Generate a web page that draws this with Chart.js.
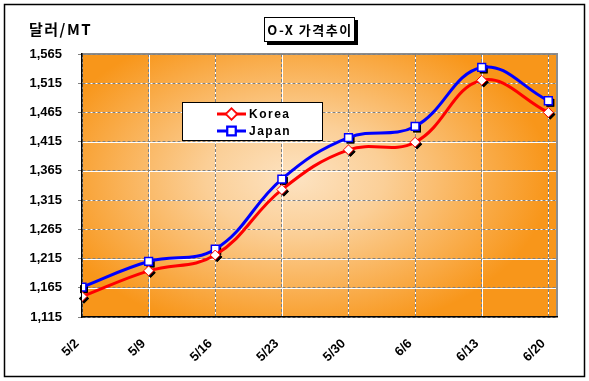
<!DOCTYPE html>
<html>
<head>
<meta charset="utf-8">
<script src="https://cdn.jsdelivr.net/npm/chart.js@4"></script>
<style>
  html, body { margin:0; padding:0; background:#ffffff; }
  #wrap { width:589px; height:381px; position:relative; }
</style>
</head>
<body>
<div id="wrap"><canvas id="c" width="589" height="381"></canvas></div>
<script>
const categories = ['5/2','5/9','5/16','5/23','5/30','6/6','6/13','6/20'];
const koreaValues = [1150, 1194, 1221, 1333, 1401, 1414, 1520, 1465];
const japanValues = [1166, 1210, 1231, 1351, 1422, 1441, 1542, 1485];
const yTickMin = 1115, yTickMax = 1565, yTickStep = 50;
const chartTitle = 'O-X 가격추이';
const yAxisTitle = '달러/MT';

const FONT = "'Liberation Sans', Arial, sans-serif";
const KFONT = "'Noto Sans CJK KR', 'Liberation Sans', sans-serif";

const decor = {
  id: 'decor',
  beforeInit(chart) {
    chart.ctx.letterSpacing = '0.8px';
  },
  beforeDraw(chart) {
    const ctx = chart.ctx, a = chart.chartArea;
    ctx.save();
    const cx = 295, cy = 178, rx = 255, ry = 160;
    ctx.save();
    ctx.beginPath();
    ctx.rect(a.left, a.top, a.right - a.left, a.bottom - a.top);
    ctx.clip();
    ctx.translate(cx, cy);
    ctx.scale(1, ry / rx);
    const g = ctx.createRadialGradient(0, 0, 0, 0, 0, rx);
    g.addColorStop(0, '#fde3c2');
    g.addColorStop(0.35, '#fbcf97');
    g.addColorStop(1, '#f8961a');
    ctx.fillStyle = g;
    ctx.fillRect(-rx * 3, -rx * 3, rx * 6, rx * 6);
    ctx.restore();
    ctx.strokeStyle = '#ffffff';
    ctx.lineWidth = 1;
    const xs = chart.scales.x, ys = chart.scales.y;
    ctx.beginPath();
    xs.ticks.forEach(t => {
      const px = Math.round(xs.getPixelForValue(t.value)) + 0.5;
      ctx.moveTo(px, a.top); ctx.lineTo(px, a.bottom);
    });
    ys.ticks.forEach(t => {
      const py = Math.round(ys.getPixelForValue(t.value)) + 0.5;
      ctx.moveTo(a.left, py); ctx.lineTo(a.right, py);
    });
    ctx.stroke();
    ctx.strokeStyle = '#8c8c8c';
    ctx.lineWidth = 2;
    ctx.beginPath();
    ctx.moveTo(a.left, a.top); ctx.lineTo(a.right, a.top); ctx.lineTo(a.right, a.bottom);
    ctx.stroke();
    ctx.restore();
  },
  beforeDatasetsDraw(chart) {
    const ctx = chart.ctx;
    ctx.save();
    chart.data.datasets.forEach((ds, i) => {
      const meta = chart.getDatasetMeta(i);
      meta.data.forEach(pt => {
        Chart.helpers.drawPoint(ctx, {
          pointStyle: ds.pointStyle, radius: ds.pointRadius, rotation: 0, borderWidth: 0
        }, pt.x + 2, pt.y + 2);
        ctx.fillStyle = '#000';
        ctx.fill();
      });
    });
    ctx.restore();
  },
  afterDraw(chart) {
    const ctx = chart.ctx;
    ctx.save();
    ctx.strokeStyle = '#000';
    ctx.lineWidth = 1.5;
    ctx.strokeRect(4.5, 4.5, 580, 372);
    ctx.fillStyle = '#000';
    ctx.font = "bold 15px " + KFONT;
    ctx.textBaseline = 'middle';
    ctx.textAlign = 'left';
    ctx.letterSpacing = '1.5px';
    ctx.fillText(yAxisTitle, 29, 29);
    ctx.fillStyle = '#000';
    ctx.fillRect(267, 20, 91, 25);
    ctx.fillStyle = '#fff';
    ctx.fillRect(264, 17, 91, 25);
    ctx.strokeStyle = '#000';
    ctx.lineWidth = 1;
    ctx.strokeRect(264.5, 17.5, 90, 24);
    ctx.fillStyle = '#000';
    ctx.font = "bold 13px " + KFONT;
    ctx.textAlign = 'center';
    ctx.letterSpacing = '1.5px';
    ctx.fillText(chartTitle, 310, 30);
    ctx.fillStyle = '#fff';
    ctx.fillRect(182, 102, 141, 39);
    ctx.strokeStyle = '#000';
    ctx.lineWidth = 1;
    ctx.strokeRect(182.5, 102.5, 140, 38);
    const rows = [114, 131];
    chart.data.datasets.forEach((ds, i) => {
      const y = rows[i];
      ctx.strokeStyle = ds.borderColor;
      ctx.lineWidth = 3;
      ctx.beginPath();
      ctx.moveTo(217, y); ctx.lineTo(246, y);
      ctx.stroke();
      Chart.helpers.drawPoint(ctx, {
        pointStyle: ds.pointStyle, radius: ds.pointRadius, rotation: 0,
        borderWidth: ds.pointBorderWidth
      }, 231.5, y);
      ctx.fillStyle = '#fff';
      ctx.strokeStyle = ds.pointBorderColor;
      ctx.lineWidth = ds.pointBorderWidth;
      ctx.fill(); ctx.stroke();
      ctx.fillStyle = '#000';
      ctx.font = "bold 12px " + FONT;
      ctx.textAlign = 'left';
      ctx.letterSpacing = '1.5px';
      ctx.fillText(ds.label, 249, y + 1);
    });
    ctx.restore();
  }
};

const toPts = arr => arr.map((v, i) => ({ x: i, y: v }));

new Chart(document.getElementById('c'), {
  type: 'line',
  plugins: [decor],
  data: {
    datasets: [
      {
        label: 'Korea', data: toPts(koreaValues),
        borderColor: '#ff0000', borderWidth: 3, tension: 0.4,
        pointStyle: 'rectRot', pointRadius: 5, pointBackgroundColor: '#ffffff',
        pointBorderColor: '#ff0000', pointBorderWidth: 1
      },
      {
        label: 'Japan', data: toPts(japanValues),
        borderColor: '#0000ff', borderWidth: 3, tension: 0.4,
        pointStyle: 'rect', pointRadius: 5.5, pointBackgroundColor: '#ffffff',
        pointBorderColor: '#0000ff', pointBorderWidth: 1.5
      }
    ]
  },
  options: {
    responsive: false,
    animation: false,
    layout: { padding: { left: 0, top: 54, right: 32, bottom: 0 } },
    plugins: { legend: { display: false }, tooltip: { enabled: false }, title: { display: false } },
    scales: {
      x: {
        type: 'linear', min: 0, max: 7.13,
        afterBuildTicks: s => { s.ticks = categories.map((c, i) => ({ value: i })); },
        afterFit: s => { s.height = 64; },
        ticks: {
          callback: v => categories[v],
          maxRotation: 45, minRotation: 45, padding: 19, labelOffset: -5,
          color: '#000', font: { family: FONT, weight: 'bold', size: 13 }
        },
        grid: { color: '#808080', lineWidth: 1, drawTicks: false },
        border: { display: true, color: '#000', width: 1.5, dash: [3, 2] }
      },
      y: {
        min: yTickMin, max: yTickMax,
        afterBuildTicks: s => {
          const t = [];
          for (let v = yTickMin; v <= yTickMax + 0.01; v += yTickStep) t.push({ value: v });
          s.ticks = t;
        },
        afterFit: s => { s.width = 82; },
        ticks: {
          callback: v => v.toLocaleString('en-US'),
          padding: 16, color: '#000',
          font: { family: FONT, weight: 'bold', size: 13 }
        },
        grid: { color: '#808080', lineWidth: 1, tickLength: 4 },
        border: { display: true, color: '#000', width: 1.5, dash: [3, 2] }
      }
    }
  }
});
</script>
</body>
</html>
